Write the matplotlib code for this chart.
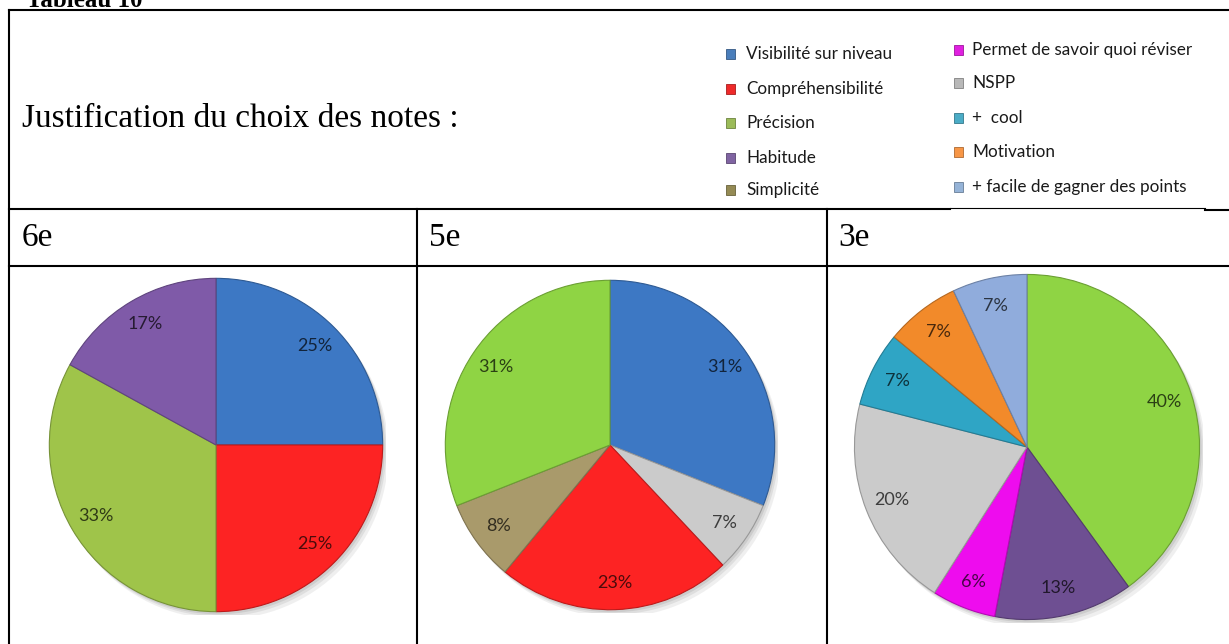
import matplotlib
matplotlib.use("Agg")
import matplotlib.pyplot as plt
import matplotlib.colors as mcolors

# données
categories = ["Visibilité sur niveau", "Compréhensibilité", "Précision", "Habitude",
              "Simplicité", "Permet de savoir quoi réviser", "NSPP", "+  cool",
              "Motivation", "+ facile de gagner des points"]

niveaux = ["6e", "5e", "3e"]

parts_6e = ["Visibilité sur niveau", "Compréhensibilité", "Précision", "Habitude"]
valeurs_6e = [25, 25, 33, 17]

parts_5e = ["Visibilité sur niveau", "NSPP", "Compréhensibilité", "Simplicité", "Précision"]
valeurs_5e = [31, 7, 23, 8, 31]

parts_3e = ["Précision", "Habitude", "Permet de savoir quoi réviser", "NSPP",
            "+  cool", "Motivation", "+ facile de gagner des points"]
valeurs_3e = [40, 13, 6, 20, 7, 7, 7]

titre = "Justification du choix des notes :"
tableau = "Tableau 10"

# couleurs
couleurs_legende = {
    "Visibilité sur niveau": "#4a7ebb",
    "Compréhensibilité": "#ee2a2a",
    "Précision": "#9bbb59",
    "Habitude": "#8064a2",
    "Simplicité": "#948a54",
    "Permet de savoir quoi réviser": "#e020e0",
    "NSPP": "#b8b8b8",
    "+  cool": "#4bacc6",
    "Motivation": "#f79646",
    "+ facile de gagner des points": "#95b3d7",
}
couleurs_parts = {
    "Visibilité sur niveau": "#3d78c4",
    "Compréhensibilité": "#fd2323",
    "Précision": "#8fd444",
    "Habitude": "#6e4f92",
    "Simplicité": "#a99a6b",
    "Permet de savoir quoi réviser": "#ee0cee",
    "NSPP": "#cbcbcb",
    "+  cool": "#2fa5c5",
    "Motivation": "#f28a2a",
    "+ facile de gagner des points": "#90acdc",
}
# la 6e a des teintes un peu différentes
couleurs_6e = dict(couleurs_parts)
couleurs_6e["Précision"] = "#9fc44a"
couleurs_6e["Habitude"] = "#7f5aa8"

W, H = 1229, 644
fig = plt.figure(figsize=(W / 100, H / 100), dpi=100)
fond = fig.add_axes([0, 0, 1, 1])
fond.set_xlim(0, W)
fond.set_ylim(H, 0)
fond.axis("off")

lw = 1.5
# bordures du tableau
fond.plot([9, W], [10, 10], color="black", lw=lw)
fond.plot([9, 9], [10, H], color="black", lw=lw)
fond.plot([9, 950], [209, 209], color="black", lw=lw)
fond.plot([950, 1205], [208, 208], color="black", lw=0.8)
fond.plot([1205, W], [209.5, 209.5], color="black", lw=lw)
fond.plot([9, W], [266, 266], color="black", lw=lw)
for x in [417, 827]:
    fond.plot([x, x], [209, H], color="black", lw=lw)

serif = "Liberation Serif"
fond.text(26, 7, tableau, fontsize=18, fontweight="bold", family=serif, va="baseline")
fond.text(22, 127, titre, fontsize=24, family=serif, va="baseline")
for x, nom in zip([22, 429, 838], niveaux):
    fond.text(x, 246, nom, fontsize=24, family=serif, va="baseline")

# légende en deux colonnes
sans = "Lato"
col_g = categories[:5]
col_d = categories[5:]
y_g = [54, 89, 123, 158, 190]
y_d = [50, 83, 118, 152, 187]
for noms, ys, xm, xt in [(col_g, y_g, 730, 746), (col_d, y_d, 958, 972)]:
    for nom, y in zip(noms, ys):
        c = couleurs_legende[nom]
        fond.add_patch(plt.Rectangle((xm - 4.5, y - 5), 9.5, 9.5, facecolor=c,
                                     edgecolor=mcolors.to_hex([v * 0.7 for v in mcolors.to_rgb(c)]),
                                     lw=0.6))
        fond.text(xt, y, nom, fontsize=12.3, family=sans, va="center", color="#1a1a1a")


def fonce(c, f=0.3):
    return tuple(v * f for v in mcolors.to_rgb(c))


def camembert(cx, cy, r, parts, valeurs, couleurs):
    ax = fig.add_axes([(cx - r) / W, 1 - (cy + r) / H, 2 * r / W, 2 * r / H])
    # ombre douce sous le camembert
    for k, a in [(0.035, 0.10), (0.022, 0.12), (0.012, 0.15)]:
        ax.add_patch(plt.Circle((k, -k * 1.3), 1.0, color="#666666", alpha=a, lw=0))
    cols = [couleurs[p] for p in parts]
    wedges, _, autotexts = ax.pie(valeurs, colors=cols, startangle=90, counterclock=False,
                                  autopct="%.0f%%", pctdistance=0.84, radius=1,
                                  wedgeprops=dict(linewidth=0.8),
                                  textprops=dict(fontsize=13, family=sans))
    for w, c, t in zip(wedges, cols, autotexts):
        w.set_edgecolor(fonce(c, 0.75))
        t.set_color(fonce(c, 0.3))
    ax.set_xlim(-1.02, 1.02)
    ax.set_ylim(-1.02, 1.02)
    ax.set_aspect("equal")
    ax.axis("off")


camembert(216, 445, 170, parts_6e, valeurs_6e, couleurs_6e)
camembert(610, 445, 168, parts_5e, valeurs_5e, couleurs_parts)
camembert(1027, 447, 176, parts_3e, valeurs_3e, couleurs_parts)

fig.savefig("out.png", dpi=100)
